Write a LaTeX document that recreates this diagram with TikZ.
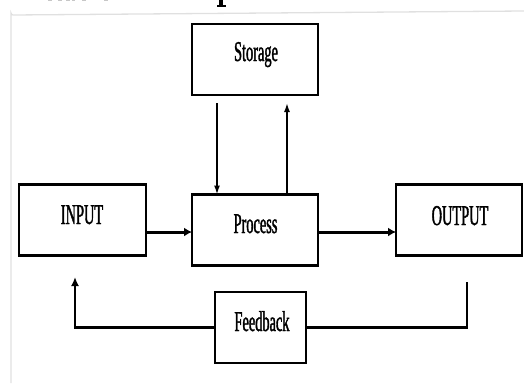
\documentclass[tikz,border=0pt]{standalone}
\usepackage{fontspec}
\setmainfont{Liberation Serif}
\newfontfamily\boxfont[FakeStretch=0.5,FakeBold=1.3]{Liberation Serif}
\usetikzlibrary{arrows.meta}
\begin{document}
\begin{tikzpicture}[x=1pt,y=-1pt,
  blockbox/.style={draw=black,line width=2.8pt,inner sep=0pt,outer sep=0pt,
    minimum width=#1,minimum height=71pt},
  blockbox/.default=126pt,
  blocklabel/.style={anchor=base,inner sep=0pt,font=\boxfont\fontsize{28.7}{30}\selectfont},
  thinflow/.style={line width=1.6pt,-{Latex[length=9pt,width=6pt]}},
  mainflow/.style={line width=3pt,-{Latex[length=8pt,width=9pt]}},
  loopflow/.style={line width=2.8pt},
  frame/.style={draw=black!12,line width=1.3pt},
  speck/.style={fill=black!22}]
\useasboundingbox (0,0) rectangle (524,383);

% page frame, with the feet of the line of print above it
\draw[frame] (11,383) -- (11,13) arc[start angle=180,end angle=90,radius=2] -- (524,11);
\fill[black] (219,0) rectangle (223,5.2);
\fill[black] (216.5,5) rectangle (225.5,6.6);
\foreach \a/\b in {48/52,58/62,66/70,72/75,82/86,104/108}
  \fill[speck] (\a,0) rectangle (\b,1.4);

% blocks
\node[blockbox] (storage) at (255,59.5) {};
\node[blockbox] (process) at (255,230) {};
\node[blockbox=127pt] (input) at (82.5,220) {};
\node[blockbox] (output) at (459,220) {};
\node[blockbox=91pt] (feedback) at (260.5,327.5) {};

\node[blocklabel] (storage-t) at (256,61) {Storage};
\node[blocklabel] (process-t) at (255.5,233) {Process};
\node[blocklabel] (input-t) at (82,224) {INPUT};
\node[blocklabel] (output-t) at (460,225) {OUTPUT};
\node[blocklabel] (feedback-t) at (262,331) {Feedback};

% storage exchange
\draw[thinflow] ([xshift=-38pt,yshift=-8pt]storage.south) -- ([xshift=-38pt]process.north);
\draw[thinflow] ([xshift=32pt]process.north) -- ([xshift=32pt,yshift=-8pt]storage.south);

% main flow
\draw[mainflow] ([yshift=-2pt]input.east |- process.west) -- ([yshift=-2pt]process.west);
\draw[mainflow] ([yshift=-2pt]process.east) -- ([yshift=-2pt]output.west |- process.east);

% feedback loop
\coordinate (fb-in) at (75,277);
\coordinate (fb-out) at (467,282);
\draw[loopflow] (fb-out) |- (feedback.east);
\draw[loopflow,-{Latex[length=9pt,width=8pt]}] (feedback.west) -| (fb-in);
\end{tikzpicture}
\end{document}
